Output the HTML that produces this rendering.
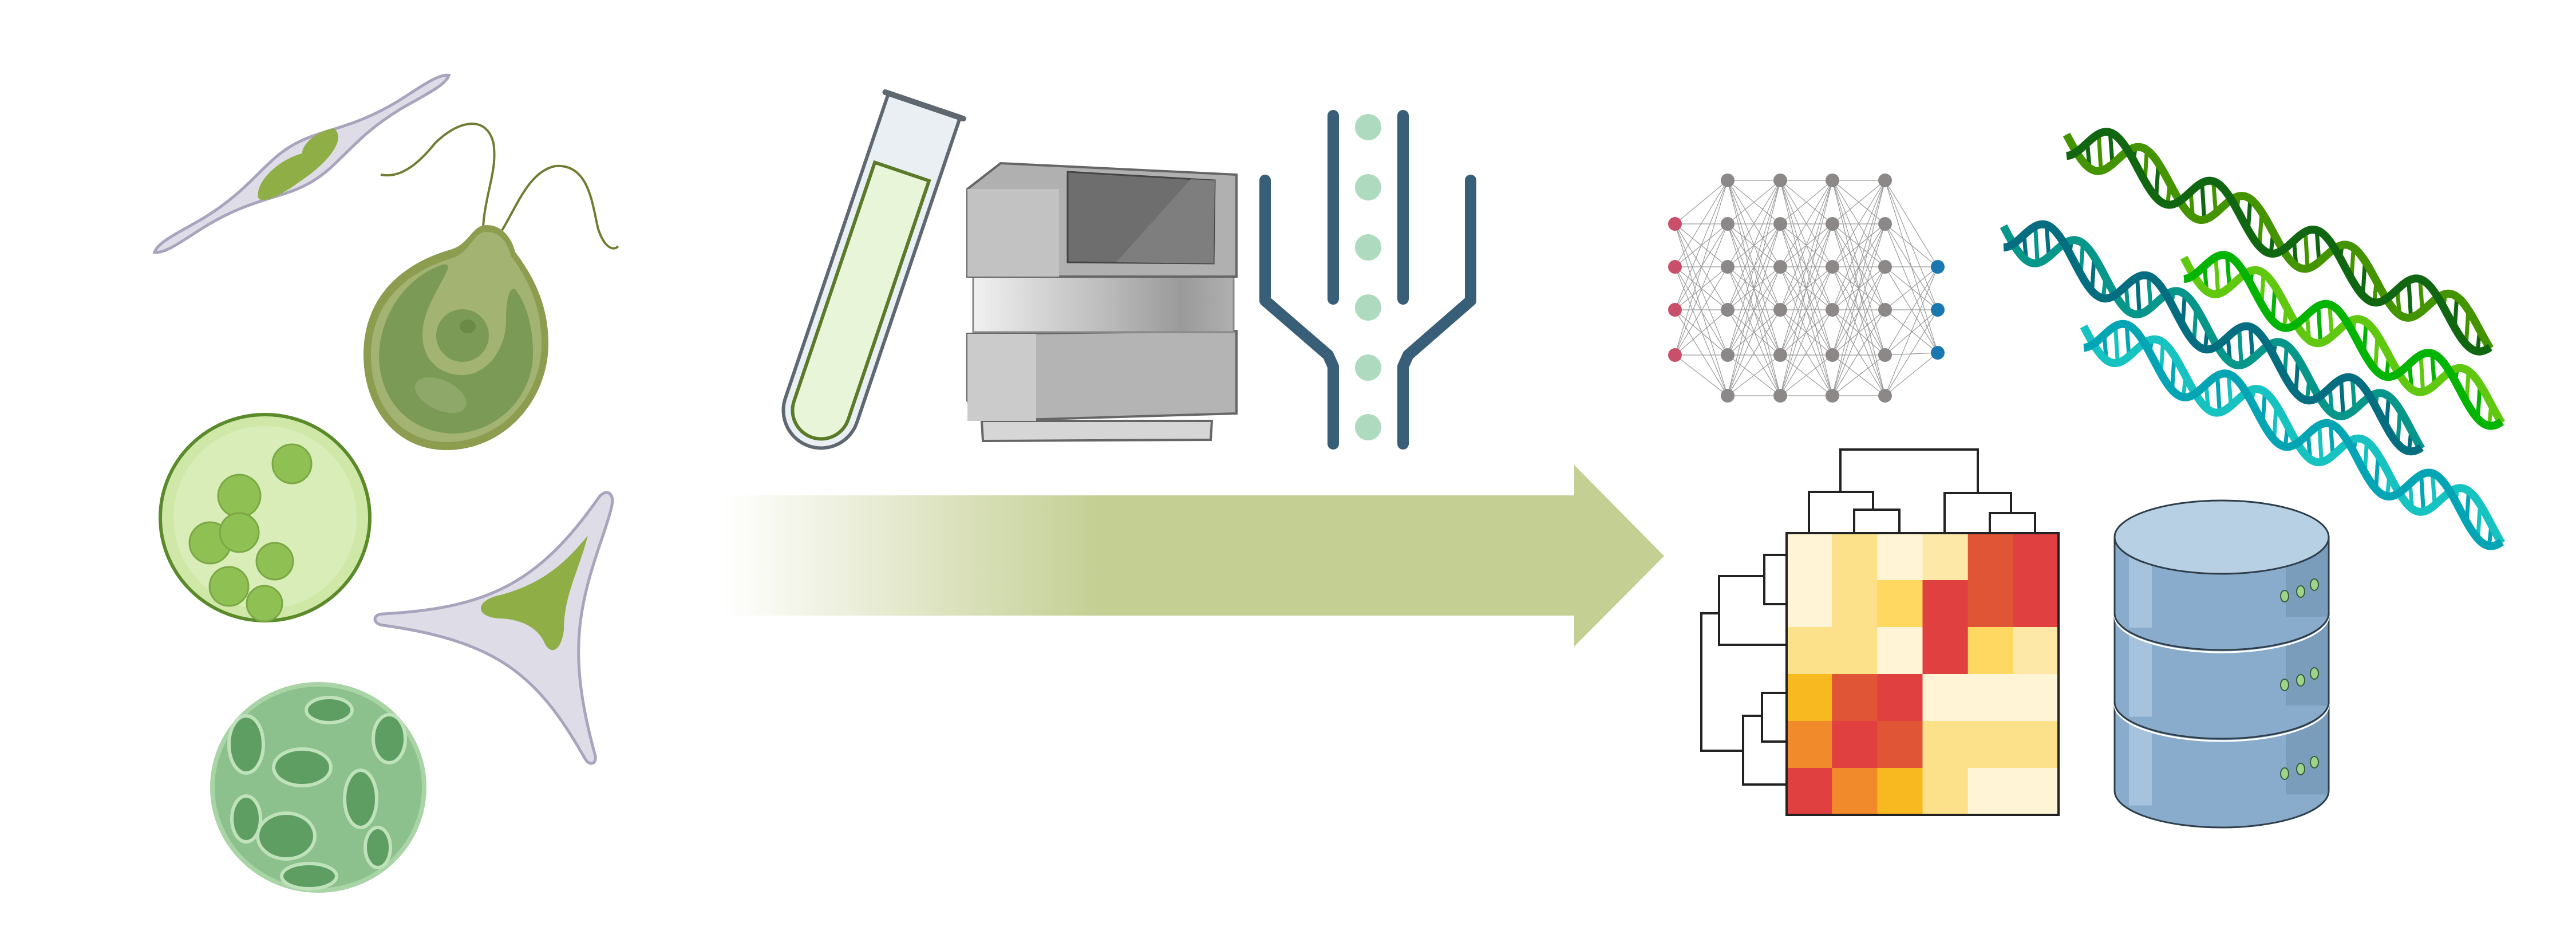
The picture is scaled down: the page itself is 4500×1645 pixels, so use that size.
<!DOCTYPE html>
<html><head><meta charset="utf-8"><style>html,body{margin:0;padding:0;background:#fff}svg{display:block}</style></head>
<body>
<svg id="s" width="4500" height="1645" viewBox="0 0 4500 1645" xmlns="http://www.w3.org/2000/svg">
<defs>
<linearGradient id="ag" x1="1263" y1="0" x2="1920" y2="0" gradientUnits="userSpaceOnUse">
<stop offset="0" stop-color="#c4cf94" stop-opacity="0"/><stop offset="1" stop-color="#c4cf94"/></linearGradient>
<linearGradient id="mid" x1="0" y1="0" x2="1" y2="0"><stop offset="0" stop-color="#f0f0f0"/><stop offset="0.5" stop-color="#bcbcbc"/><stop offset="0.8" stop-color="#9a9a9a"/><stop offset="1" stop-color="#b0b0b0"/></linearGradient>
</defs>
<!-- arrow -->
<rect x="1263" y="865" width="1490" height="210" fill="url(#ag)"/>
<polygon points="2750,812 2907,971 2750,1129" fill="#c4cf94"/>

<!-- pennate diatom -->
<g transform="translate(527,286) rotate(-31)">
<path d="M-300,0 C-285,-12 -250,-8 -200,-7 C-100,-7 -60,-36 0,-36 C60,-36 100,-7 200,-7 C250,-8 285,-12 300,0 C285,12 250,8 200,7 C100,7 60,36 0,36 C-60,36 -100,7 -200,7 C-250,8 -285,12 -300,0Z" fill="#dedce6" stroke="#a9a3bd" stroke-width="5"/>
<path d="M-95,10 C-80,-20 -20,-25 10,-15 C20,-32 60,-34 80,-24 C90,0 50,22 -20,25 C-70,30 -100,22 -95,10Z" fill="#8fae45"/>
</g>
<!-- chlamydomonas-like cell -->
<g fill="none" stroke="#6f7d33" stroke-width="4">
<path d="M843,412 C845,340 870,300 862,250 C850,200 800,210 760,250 C720,300 690,310 665,305"/>
<path d="M866,420 C900,370 920,300 970,290 C1030,285 1035,360 1045,400 C1055,430 1070,440 1080,430"/>
</g>
<path d="M850,393 C880,393 895,420 900,440 C930,480 958,530 958,600 C958,700 880,786 780,786 C690,786 635,710 635,620 C635,520 700,460 790,435 C820,425 825,393 850,393Z" fill="#8d9d50"/>
<path d="M850,405 C878,405 888,430 893,448 C922,486 946,535 946,600 C946,695 872,772 780,772 C698,772 648,705 648,620 C648,530 708,475 792,450 C822,440 826,405 850,405Z" fill="#a3b372"/>
<path d="M770,463 C700,490 662,560 662,625 C665,705 720,755 790,757 C860,757 920,705 930,635 C935,580 920,530 900,505 C888,500 884,530 884,560 C884,610 850,655 808,655 C765,655 738,625 738,585 C738,540 770,500 782,470 C785,462 778,460 770,463Z" fill="#7a9a55"/>
<ellipse cx="808" cy="586" rx="46" ry="46" fill="#7a9a55"/>
<ellipse cx="817" cy="570" rx="14" ry="12" fill="#6a8a45"/>
<ellipse cx="770" cy="690" rx="48" ry="26" transform="rotate(25 770 690)" fill="#8ea86a"/>
<!-- green sphere -->
<ellipse cx="463" cy="904" rx="183" ry="180" fill="#cfe8a8" stroke="#5b8a2a" stroke-width="6"/>
<ellipse cx="463" cy="904" rx="160" ry="160" fill="#d9eebc" opacity="0.8"/>
<g fill="#8fc054" stroke="#7aa845" stroke-width="3">
<circle cx="510" cy="810" r="34"/><circle cx="418" cy="866" r="37"/><circle cx="367" cy="948" r="36"/><circle cx="418" cy="930" r="34"/><circle cx="480" cy="980" r="32"/><circle cx="400" cy="1024" r="34"/><circle cx="462" cy="1054" r="31"/>
</g>
<!-- triangle diatom -->
<path d="M1065,862 C1075,870 1068,890 1055,930 C1010,1060 990,1140 1040,1320 C1042,1335 1030,1338 1022,1325 C940,1180 870,1120 670,1092 C650,1090 650,1072 670,1072 C850,1062 940,1020 1045,870 C1052,860 1060,858 1065,862Z" fill="#dedce6" stroke="#a9a3bd" stroke-width="5"/>
<path d="M1027,935 C1010,1000 985,1040 985,1100 C980,1140 960,1145 950,1120 C935,1090 900,1080 870,1080 C830,1076 830,1050 870,1040 C950,1020 990,980 1027,935Z" fill="#8fae45"/>
<!-- coccolith -->
<ellipse cx="556" cy="1375" rx="185" ry="180" fill="#8cc08c" stroke="#a9d4a6" stroke-width="8"/>
<g fill="#5f9e62" stroke="#bfe2bb" stroke-width="6">
<ellipse cx="528" cy="1340" rx="50" ry="32"/><ellipse cx="430" cy="1300" rx="30" ry="50"/><ellipse cx="630" cy="1395" rx="28" ry="50"/><ellipse cx="500" cy="1460" rx="50" ry="40"/><ellipse cx="680" cy="1290" rx="28" ry="42"/><ellipse cx="430" cy="1430" rx="25" ry="40"/><ellipse cx="540" cy="1530" rx="48" ry="22"/><ellipse cx="575" cy="1240" rx="40" ry="22"/><ellipse cx="660" cy="1480" rx="22" ry="35"/>
</g>

<!-- test tube -->
<g transform="translate(1614,186) rotate(18.7)">
<path d="M-66,0 L-66,560 A66,66 0 0 0 66,560 L66,0" fill="#e9eff2" stroke="#5f6870" stroke-width="6"/>
<line x1="-72" y1="-2" x2="72" y2="-2" stroke="#5f6870" stroke-width="10" stroke-linecap="round"/>
<path d="M-50,120 L50,120 L50,560 A50,50 0 0 1 -50,560Z" fill="#e8f5d8" stroke="#5a7a2a" stroke-width="6"/>
</g>
<!-- sequencer -->
<path d="M1715,735 L1717,770 L2115,768 L2117,735Z" fill="#d6d6d6" stroke="#666" stroke-width="4"/>
<path d="M1690,583 L2160,578 L2160,722 L1720,735 L1690,700Z" fill="#b4b4b4" stroke="#666" stroke-width="4"/>
<rect x="1690" y="583" width="120" height="152" fill="#cbcbcb"/>
<rect x="1700" y="480" width="455" height="100" fill="url(#mid)" stroke="#888" stroke-width="3"/>
<path d="M1690,330 L1748,285 L2160,305 L2160,483 L1690,483Z" fill="#b0b0b0" stroke="#666" stroke-width="4"/>
<rect x="1690" y="330" width="160" height="153" fill="#c2c2c2"/>
<path d="M1865,300 L2122,315 L2120,460 L1865,458Z" fill="#6e6e6e" stroke="#444" stroke-width="3"/>
<path d="M2080,313 L2122,315 L2120,460 L1950,458Z" fill="#7e7e7e"/>
<!-- flow cell -->
<g fill="none" stroke="#395e78" stroke-width="20" stroke-linecap="round" stroke-linejoin="round">
<line x1="2329" y1="202" x2="2329" y2="522"/><line x1="2451" y1="202" x2="2451" y2="522"/>
<path d="M2210,315 L2210,525 L2320,620 L2329,640 L2329,775"/>
<path d="M2569,315 L2569,525 L2460,620 L2451,640 L2451,775"/>
</g>
<g fill="#aedbc0"><ellipse cx="2390" cy="222" rx="23" ry="23"/><ellipse cx="2390" cy="327" rx="23" ry="23"/><ellipse cx="2390" cy="432" rx="23" ry="23"/><ellipse cx="2390" cy="537" rx="23" ry="23"/><ellipse cx="2390" cy="642" rx="23" ry="23"/><ellipse cx="2390" cy="746" rx="23" ry="23"/></g>

<g id="nn"></g>
<g id="dna"></g>

<!-- heatmap + dendrograms -->
<g id="hm"></g>
<g fill="none" stroke="#222" stroke-width="4">
<path d="M3160,931 V859 H3272 V890 M3239,931 V890 H3318 V931"/>
<path d="M3397,931 V861 H3513 V896 M3476,931 V896 H3555 V931"/>
<path d="M3215,859 V785 H3455 V861"/>
<path d="M3121,969 H3082 V1055 H3121 M3082,1006 H3003 V1126 H3121 M3121,1210 H3078 V1295 H3121 M3078,1250 H3045 V1370 H3121 M3003,1071 H2972 V1311 H3045"/>
</g>
<rect x="3121" y="931" width="475" height="492" fill="none" stroke="#222" stroke-width="4"/>

<!-- database -->
<g id="db"></g>
</svg>
<script>
const NS="http://www.w3.org/2000/svg";
function el(p,t,a){const e=document.createElementNS(NS,t);for(const k in a)e.setAttribute(k,a[k]);p.appendChild(e);return e;}
// neural net
const nn=document.getElementById('nn');
const cols=[2926,3018,3110,3201,3293,3385];
const hid=[315,391,466,541,620,691];
const layers=[[391,466,541,620],hid,hid,hid,hid,[466,541,616]];
for(let i=0;i<5;i++)for(const a of layers[i])for(const b of layers[i+1])el(nn,'line',{x1:cols[i],y1:a,x2:cols[i+1],y2:b,stroke:'#9a9a9a','stroke-width':1.2});
layers.forEach((L,i)=>L.forEach(y=>el(nn,'circle',{cx:cols[i],cy:y,r:12,fill:i==0?'#c9506b':i==5?'#1a78b0':'#8c8888'})));
// heatmap
const C={c:'#fff4d6',y:'#fde08a',p:'#fde8a8',g:'#fed860',o:'#e05535',r:'#e04040',a:'#f8b820',n:'#f08a2a'};
const rows=['cycpor','cygror','yycrgp','aorccc','nroyyy','rnaycc'];
const hm=document.getElementById('hm');
const cw=475/6,rh=492/6;
rows.forEach((r,i)=>[...r].forEach((k,j)=>el(hm,'rect',{x:3121+j*cw,y:931+i*rh,width:cw+0.5,height:rh+0.5,fill:C[k]})));
// dna: vertical oscillation along a diagonal axis, strands phase-shifted (major/minor groove)
const dna=document.getElementById('dna');
function helix(x0,y0,x1,y1,c1,c2,n){
 const dx=x1-x0,dy=y1-y0,A=40,ph=0.62*Math.PI;
 const P=(u,s)=>{const w=A*Math.sin(u*n*2*Math.PI+(s>0?0:ph));return [x0+dx*u,y0+dy*u+w];};
 const steps=n*9;
 for(let i=1;i<steps;i++){const u=i/steps;const a=P(u,1),b=P(u,-1);if(Math.abs(a[1]-b[1])<20)continue;el(dna,'line',{x1:a[0],y1:a[1],x2:b[0]-4,y2:b[1],stroke:i%2?c1:c2,'stroke-width':7});}
 [[1,c1],[-1,c2]].forEach(([s,c])=>{let d='';for(let i=0;i<=400;i++){const p=P(i/400,s);d+=(i?'L':'M')+p[0].toFixed(1)+','+p[1].toFixed(1);}el(dna,'path',{d:d,fill:'none',stroke:c,'stroke-width':14});});
}
helix(3610,235,4350,585,'#449400','#116611',4.1);
helix(3500,395,4230,760,'#06968a','#046e80',4.1);
helix(3815,450,4370,715,'#5fc80f','#03b403',3.1);
helix(3640,570,4370,925,'#16c3c0','#03a5b5',4.1);
// database
const db=document.getElementById('db');
const cx=3881,rx=187,ry=64;
[[1230,1445],[1075,1290],[938,1135]].forEach(([top,bot],i)=>{
 if(i<2){el(db,'path',{d:`M${cx-rx},${top-15} A${rx},${ry} 0 0 1 ${cx+rx},${top-15} L${cx+rx},${top+20} A${rx},${ry} 0 0 1 ${cx-rx},${top+20}Z`,fill:'#5f7f99',stroke:'#2e3e4a','stroke-width':3});}
 el(db,'path',{d:`M${cx-rx},${top} L${cx-rx},${bot-ry} A${rx},${ry} 0 0 0 ${cx+rx},${bot-ry} L${cx+rx},${top}Z`,fill:'#8aaccc',stroke:'#2e3e4a','stroke-width':3});
 el(db,'rect',{x:cx-rx+25,y:top,width:40,height:bot-top-ry*0.6,fill:'#a6c2dc'});
 el(db,'rect',{x:cx+rx-75,y:top,width:73,height:bot-top-ry*0.9,fill:'#7a9dbb'});
 [[cx+110,bot-ry-30],[cx+138,bot-ry-38],[cx+162,bot-ry-50]].forEach(p=>el(db,'ellipse',{cx:p[0],cy:p[1],rx:7,ry:10,fill:'#9ed48a',stroke:'#3a5a3a','stroke-width':2}));
 if(i==2)el(db,'ellipse',{cx:cx,cy:top,rx:rx,ry:ry,fill:'#b8d0e4',stroke:'#2e3e4a','stroke-width':3});
 else el(db,'path',{d:`M${cx-rx},${top} A${rx},${ry} 0 0 0 ${cx+rx},${top}`,fill:'none',stroke:'#fff','stroke-width':3});
});
</script>
</body></html>
